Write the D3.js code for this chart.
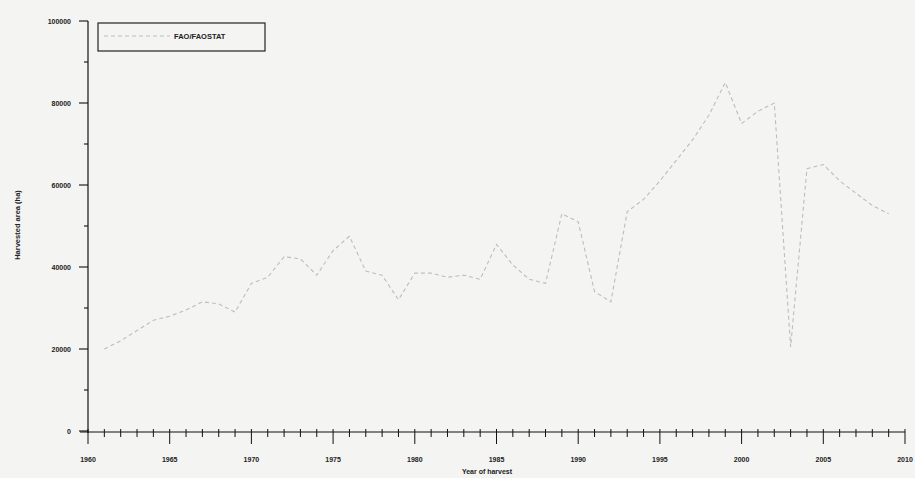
<!DOCTYPE html>
<html><head><meta charset="utf-8">
<script src="https://cdn.jsdelivr.net/npm/d3@7"></script>
<style>
html,body{margin:0;padding:0;background:#f4f4f2;}
svg{display:block;}
</style></head>
<body>
<svg id="c" width="915" height="478"></svg>
<script>
const years = [1961,1962,1963,1964,1965,1966,1967,1968,1969,1970,
  1971,1972,1973,1974,1975,1976,1977,1978,1979,1980,
  1981,1982,1983,1984,1985,1986,1987,1988,1989,1990,
  1991,1992,1993,1994,1995,1996,1997,1998,1999,2000,
  2001,2002,2003,2004,2005,2006,2007,2008,2009];
const area = [20000,22000,24500,27000,28000,29500,31500,31000,29000,36000,
  37500,42500,42000,38000,44000,47500,39000,38000,32000,38500,
  38500,37500,38000,37000,45500,40500,37000,36000,53000,51000,
  34000,31500,53500,56500,61000,66000,71000,77000,85000,75000,
  78000,80000,20500,64000,65000,61000,58000,55000,53000];
const seriesName = "FAO/FAOSTAT";
const yTicks = [0,20000,40000,60000,80000,100000];
const xTicks = [1960,1965,1970,1975,1980,1985,1990,1995,2000,2005,2010];
const yLabel = "Harvested area (ha)";
const xLabel = "Year of harvest";

const svg = d3.select("#c");
const x = d3.scaleLinear().domain([1960,2010]).range([88,905]);
const y = d3.scaleLinear().domain([0,100000]).range([431,21]);
const font = "Liberation Sans, Arial, sans-serif";

// line
const line = d3.line().x((d,i)=>x(years[i])).y(d=>y(d));
svg.append("path").datum(area)
  .attr("d", line).attr("fill","none")
  .attr("stroke","#bdbdbd").attr("stroke-width",1.1)
  .attr("stroke-dasharray","4,3");

// y axis
const yAxis = svg.append("g");
yAxis.append("line").attr("x1",88).attr("x2",88).attr("y1",y(100000)).attr("y2",y(0)+2)
  .attr("stroke","#111").attr("stroke-width",1.2);
d3.range(0,100001,10000).forEach(v=>{
  const major = v % 20000 === 0;
  yAxis.append("line").attr("x1", major?79:84).attr("x2",88)
    .attr("y1",y(v)).attr("y2",y(v)).attr("stroke","#111").attr("stroke-width",1.1);
});
yAxis.selectAll("text.yt").data(yTicks).enter().append("text")
  .attr("x",71).attr("y",d=>y(d)+2.5).attr("text-anchor","end")
  .attr("font-family",font).attr("font-size",7).attr("font-weight","bold").attr("fill","#222")
  .text(d=>d);

// x axis
const xAxis = svg.append("g");
xAxis.append("line").attr("x1",80).attr("x2",x(2010)).attr("y1",432).attr("y2",432)
  .attr("stroke","#111").attr("stroke-width",1.2);
d3.range(1960,2011).forEach(yr=>{
  const major = yr % 5 === 0;
  xAxis.append("line").attr("x1",x(yr)).attr("x2",x(yr))
    .attr("y1",429).attr("y2", major?444:437).attr("stroke","#111").attr("stroke-width",1);
});
xAxis.selectAll("text.xt").data(xTicks).enter().append("text")
  .attr("x",d=>x(d)).attr("y",462).attr("text-anchor","middle")
  .attr("font-family",font).attr("font-size",7).attr("font-weight","bold").attr("fill","#222")
  .text(d=>d);

// axis titles
svg.append("text").attr("transform","translate(20,225) rotate(-90)")
  .attr("text-anchor","middle").attr("font-family",font).attr("font-size",7.5)
  .attr("font-weight","bold").attr("fill","#222").text(yLabel);
svg.append("text").attr("x",487).attr("y",474).attr("text-anchor","middle")
  .attr("font-family",font).attr("font-size",7).attr("font-weight","bold")
  .attr("fill","#222").text(xLabel);

// legend
const lg = svg.append("g");
lg.append("rect").attr("x",98).attr("y",23).attr("width",167).attr("height",28)
  .attr("fill","none").attr("stroke","#222").attr("stroke-width",1.2);
lg.append("line").attr("x1",104).attr("x2",170).attr("y1",36).attr("y2",36)
  .attr("stroke","#bdbdbd").attr("stroke-width",1.1).attr("stroke-dasharray","4,3");
lg.append("text").attr("x",174).attr("y",39).attr("font-family",font)
  .attr("font-size",7.5).attr("font-weight","bold").attr("fill","#222").text(seriesName);
</script>
</body></html>
